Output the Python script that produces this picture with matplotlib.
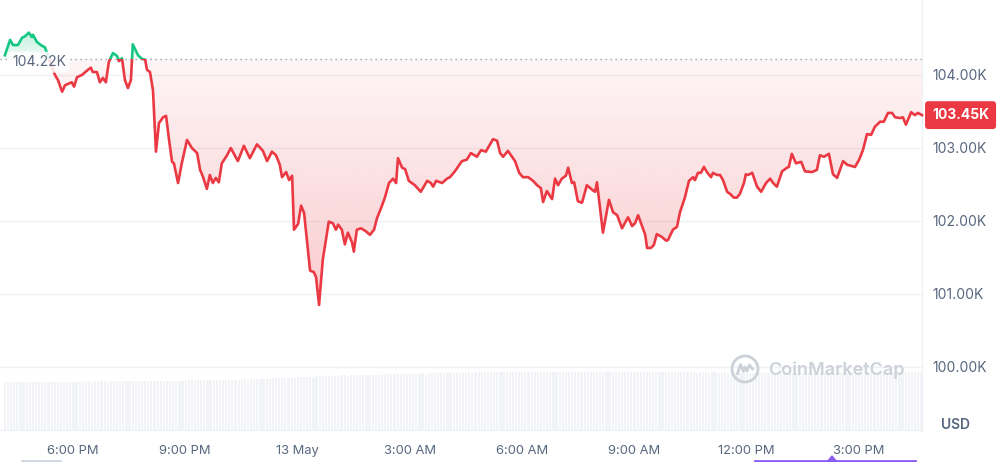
import numpy as np
import matplotlib
matplotlib.use("Agg")
import matplotlib.pyplot as plt
from matplotlib.path import Path
from matplotlib.patches import Rectangle, Circle, Polygon
from matplotlib.lines import Line2D
from matplotlib.colors import to_rgb
import matplotlib.transforms as mtransforms

plt.rcParams['font.family'] = ['Inter', 'DejaVu Sans']

# ---------------- data ----------------
# time in hours relative to 6:00 PM (12 May)
hours = [
    -1.82, -1.68, -1.60, -1.47, -1.36, -1.28, -1.18, -1.10, -1.07, -0.96, -0.83, -0.75,
    -0.48, -0.40, -0.29, -0.21, -0.03, 0.03, 0.11, 0.24, 0.40, 0.48, 0.53, 0.64,
    0.72, 0.80, 0.88, 0.96, 1.07, 1.18, 1.23, 1.31, 1.39, 1.47, 1.55, 1.60,
    1.74, 1.85, 1.93, 1.98, 2.06, 2.14, 2.22, 2.30, 2.41, 2.49, 2.57, 2.65,
    2.70, 2.81, 2.91, 3.05, 3.18, 3.32, 3.40, 3.48, 3.58, 3.66, 3.74, 3.82,
    3.90, 3.98, 4.12, 4.22, 4.41, 4.57, 4.73, 4.92, 5.08, 5.19, 5.32, 5.43,
    5.53, 5.59, 5.70, 5.78, 5.86, 5.91, 6.02, 6.10, 6.18, 6.34, 6.44, 6.50,
    6.58, 6.68, 6.84, 6.95, 7.03, 7.09, 7.19, 7.27, 7.35, 7.46, 7.51, 7.59,
    7.70, 7.83, 7.94, 8.05, 8.13, 8.24, 8.34, 8.45, 8.56, 8.64, 8.69, 8.80,
    8.88, 8.98, 9.14, 9.30, 9.47, 9.57, 9.63, 9.71, 9.87, 10.00, 10.08, 10.21,
    10.40, 10.53, 10.64, 10.80, 10.91, 11.04, 11.15, 11.23, 11.34, 11.42, 11.50, 11.63,
    11.82, 11.93, 12.03, 12.17, 12.30, 12.41, 12.51, 12.57, 12.67, 12.81, 12.89, 12.97,
    13.07, 13.18, 13.24, 13.34, 13.40, 13.50, 13.61, 13.74, 13.90, 13.96, 14.01, 14.17,
    14.33, 14.44, 14.55, 14.68, 14.84, 14.95, 15.03, 15.11, 15.30, 15.35, 15.45, 15.53,
    15.61, 15.75, 15.86, 15.91, 16.04, 16.15, 16.23, 16.36, 16.47, 16.58, 16.63, 16.71,
    16.79, 16.87, 16.95, 17.06, 17.11, 17.22, 17.30, 17.38, 17.49, 17.57, 17.67, 17.75,
    17.83, 17.94, 17.99, 18.05, 18.16, 18.29, 18.40, 18.53, 18.64, 18.72, 18.82, 18.96,
    19.09, 19.14, 19.22, 19.33, 19.47, 19.57, 19.76, 19.89, 19.97, 20.08, 20.21, 20.32,
    20.43, 20.59, 20.70, 20.91, 21.02, 21.12, 21.23, 21.34, 21.44, 21.58, 21.68, 21.79,
    21.90, 21.98, 22.11, 22.19, 22.27, 22.41, 22.51, 22.59, 22.70,
]
# price in thousands of USD
price_k = [
    104.27, 104.48, 104.41, 104.41, 104.51, 104.53, 104.58, 104.52, 104.55, 104.45, 104.40, 104.38,
    104.00, 103.93, 103.77, 103.86, 103.90, 103.84, 103.97, 104.00, 104.07, 104.10, 104.04, 104.04,
    103.90, 103.96, 103.90, 104.18, 104.30, 104.26, 104.19, 104.23, 103.93, 103.82, 103.93, 104.42,
    104.27, 104.22, 104.21, 104.07, 104.04, 103.79, 102.95, 103.34, 103.42, 103.44, 103.11, 102.81,
    102.79, 102.52, 102.79, 103.11, 103.00, 102.93, 102.70, 102.60, 102.44, 102.63, 102.52, 102.59,
    102.53, 102.79, 102.90, 103.00, 102.82, 103.03, 102.86, 103.05, 102.96, 102.82, 102.95, 102.90,
    102.77, 102.60, 102.67, 102.56, 102.62, 101.88, 101.96, 102.21, 102.11, 101.32, 101.30, 101.23,
    100.85, 101.47, 101.99, 101.97, 101.88, 101.95, 101.88, 101.68, 101.84, 101.71, 101.58, 101.88,
    101.90, 101.86, 101.81, 101.88, 102.04, 102.18, 102.32, 102.52, 102.58, 102.52, 102.86, 102.73,
    102.71, 102.55, 102.49, 102.40, 102.55, 102.52, 102.47, 102.55, 102.52, 102.58, 102.60, 102.68,
    102.82, 102.84, 102.93, 102.88, 102.97, 102.95, 103.05, 103.12, 103.10, 102.93, 102.88, 102.96,
    102.82, 102.66, 102.60, 102.60, 102.55, 102.49, 102.45, 102.26, 102.41, 102.30, 102.58, 102.49,
    102.58, 102.62, 102.73, 102.52, 102.53, 102.27, 102.25, 102.49, 102.42, 102.40, 102.53, 101.84,
    102.29, 102.12, 102.08, 101.90, 102.05, 101.93, 101.97, 102.08, 101.81, 101.63, 101.63, 101.67,
    101.82, 101.78, 101.73, 101.74, 101.88, 101.92, 102.12, 102.32, 102.55, 102.60, 102.56, 102.66,
    102.66, 102.74, 102.67, 102.60, 102.66, 102.63, 102.63, 102.56, 102.40, 102.37, 102.32, 102.32,
    102.37, 102.52, 102.64, 102.63, 102.66, 102.47, 102.40, 102.52, 102.58, 102.52, 102.47, 102.68,
    102.73, 102.74, 102.92, 102.79, 102.81, 102.68, 102.67, 102.70, 102.90, 102.88, 102.92, 102.64,
    102.59, 102.82, 102.77, 102.74, 102.84, 102.97, 103.19, 103.18, 103.29, 103.36, 103.36, 103.48,
    103.48, 103.42, 103.41, 103.42, 103.32, 103.49, 103.45, 103.48, 103.45,
]
open_price_k = 104.22
last_price_k = 103.45

# 24h volume (billions USD), one bar per 5 minutes starting at the first sample
volume_b = [
    38.4, 38.6, 38.3, 38.5, 38.4, 38.2, 38.5, 38.6, 38.4, 38.3, 38.5, 38.4,
    38.6, 38.5, 38.7, 38.4, 38.6, 38.8, 38.5, 38.6, 38.7, 38.5, 38.6, 38.8,
    38.9, 38.7, 38.8, 39.0, 38.8, 38.9, 38.7, 39.0, 38.9, 38.8, 39.1, 38.9,
    39.0, 39.2, 38.9, 39.1, 39.0, 39.3, 39.1, 39.0, 39.2, 39.1, 39.3, 39.2,
    39.4, 39.2, 39.5, 39.3, 39.4, 39.6, 39.4, 39.3, 39.5, 39.6, 39.4, 39.7,
    39.8, 39.6, 39.9, 39.7, 40.0, 39.8, 39.9, 40.1, 39.9, 40.0, 40.2, 40.0,
    40.3, 40.1, 40.4, 40.2, 40.5, 40.6, 40.4, 40.7, 40.5, 40.8, 40.9, 41.0,
    41.2, 41.0, 41.4, 41.3, 41.6, 41.5, 41.8, 41.7, 42.0, 41.9, 42.2, 42.3,
    42.5, 42.4, 42.7, 42.8, 43.0, 42.9, 43.2, 43.1, 43.4, 43.3, 43.5, 43.6,
    43.7, 43.8, 43.6, 43.9, 44.0, 43.9, 44.1, 44.2, 44.0, 44.3, 44.2, 44.4,
    44.5, 44.4, 44.6, 44.7, 44.5, 44.8, 44.7, 44.9, 44.8, 45.0, 44.9, 45.1,
    45.2, 45.0, 45.3, 45.2, 45.4, 45.3, 45.5, 45.4, 45.6, 45.5, 45.7, 45.6,
    45.8, 45.7, 45.9, 46.0, 45.9, 46.1, 46.0, 46.2, 46.1, 46.3, 46.2, 46.4,
    46.3, 46.4, 46.2, 46.5, 46.4, 46.3, 46.5, 46.4, 46.6, 46.5, 46.4, 46.6,
    46.5, 46.6, 46.4, 46.5, 46.7, 46.6, 46.5, 46.4, 46.6, 46.5, 46.7, 46.6,
    46.5, 46.4, 46.6, 46.5, 46.3, 46.5, 46.4, 46.6, 46.5, 46.4, 46.3, 46.5,
    46.4, 46.6, 46.5, 46.3, 46.4, 46.5, 46.6, 46.4, 46.5, 46.3, 46.4, 46.5,
    46.4, 46.3, 46.5, 46.4, 46.2, 46.4, 46.3, 46.5, 46.4, 46.3, 46.2, 46.4,
    46.3, 46.2, 46.4, 46.1, 46.3, 46.2, 46.0, 46.2, 46.1, 46.3, 46.0, 46.2,
    46.1, 46.0, 45.9, 46.1, 46.0, 45.8, 46.0, 45.9, 45.8, 46.0, 45.9, 45.8,
    45.9, 45.8, 46.0, 45.7, 45.9, 45.8, 45.7, 45.9, 45.8, 45.7, 45.9, 45.8,
    45.8, 45.9, 45.7, 45.8, 46.0, 45.9, 45.8, 46.0, 45.9, 46.1, 46.0, 45.9,
    46.0, 46.1, 45.9, 46.0, 46.2, 46.1, 46.0, 46.2, 46.1, 46.3, 46.2, 46.1,
    46.2, 46.3, 46.1, 46.2, 46.4, 46.3, 46.2, 46.4, 46.3, 46.2, 46.4, 46.3,
    46.4, 46.3, 46.5, 46.4, 46.6, 46.5, 46.6,
]
volume_step_h = 5 / 60

x_tick_hours = [0, 3, 6, 9, 12, 15, 18, 21]
x_tick_labels = ['6:00 PM', '9:00 PM', '13 May', '3:00 AM', '6:00 AM', '9:00 AM', '12:00 PM', '3:00 PM']
y_ticks_k = [100, 101, 102, 103, 104]

# ---------------- style ----------------
RED = '#ea3943'
GREEN = '#16c784'
GRID = '#eff2f5'
TXT = '#58667e'

W, H = 1008, 462
fig = plt.figure(figsize=(W / 100, H / 100), dpi=100)
fig.patch.set_facecolor('white')


def px(x0, y0, w, h):
    return [x0 / W, 1 - (y0 + h) / H, w / W, h / H]


XLIM = (-1.95, 22.70)

# volume axes
ax_vol = fig.add_axes(px(0, 360, 922, 70))
vt = hours[0] + np.arange(len(volume_b)) * volume_step_h
ax_vol.bar(vt, volume_b, width=volume_step_h * 0.7, color='#f1f3f6', linewidth=0)
ax_vol.set_xlim(*XLIM)
ax_vol.set_ylim(0, 56)
ax_vol.axis('off')

# price axes
ax = fig.add_axes(px(0, 0, 922, 430))
ax.patch.set_visible(False)

t = np.array(hours)
p = np.array(price_k)
base = open_price_k


def gradient_fill(mask, lo, hi, color, alpha_far, alpha_near, far_is_low):
    poly = ax.fill_between(t, p, base, where=mask, interpolate=True,
                           facecolor='none', edgecolor='none')
    paths = [pp for pp in poly.get_paths() if len(pp.vertices) > 0]
    if not paths:
        return
    clip = Path.make_compound_path(*paths)
    n = 256
    a = np.linspace(0, 1, n)
    if far_is_low:
        alpha = alpha_far + (alpha_near - alpha_far) * a
    else:
        alpha = alpha_near + (alpha_far - alpha_near) * a
    rgba = np.zeros((n, 1, 4))
    rgba[:, 0, :3] = to_rgb(color)
    rgba[:, 0, 3] = alpha
    im = ax.imshow(rgba, extent=[t[0], t[-1], lo, hi], origin='lower',
                   aspect='auto', interpolation='bilinear', zorder=1)
    im.set_clip_path(clip, transform=ax.transData)


gradient_fill(p <= base, p.min(), base, RED, 0.26, 0.05, True)
gradient_fill(p >= base, base, p.max(), GREEN, 0.26, 0.05, False)

# price line, red below / green above the open price
line_r, = ax.plot(t, p, color=RED, lw=1.9, zorder=4, solid_joinstyle='round')
line_g, = ax.plot(t, p, color=GREEN, lw=1.9, zorder=4, solid_joinstyle='round')
clip_low = Rectangle((-10, 90), 50, base - 90, transform=ax.transData)
clip_high = Rectangle((-10, base), 50, 20, transform=ax.transData)
line_r.set_clip_path(clip_low)
line_g.set_clip_path(clip_high)

# open price dotted line
ax.axhline(base, color='#9aa3b2', lw=1.0, ls=(0, (1, 2.6)), zorder=2)

ax.set_xlim(*XLIM)
ax.set_ylim(99.137, 105.027)

ax.set_yticks(y_ticks_k)
ax.yaxis.set_major_formatter(plt.FuncFormatter(lambda v, _: f'{v:.2f}K'))
ax.yaxis.tick_right()
ax.tick_params(axis='y', length=0, pad=7.5, labelsize=10, labelcolor=TXT)
ax.set_xticks(x_tick_hours)
ax.set_xticklabels(x_tick_labels)
ax.tick_params(axis='x', length=0, pad=11, labelsize=9.3, labelcolor=TXT)
ax.grid(axis='y', color=GRID, lw=1, zorder=0)
ax.set_axisbelow(True)
for s in ['top', 'left']:
    ax.spines[s].set_visible(False)
for s in ['right', 'bottom']:
    ax.spines[s].set_color(GRID)
    ax.spines[s].set_linewidth(1)

# open price label
ax.text(-1.63, 104.175, f'{open_price_k:.2f}K', ha='left', va='center',
        fontsize=10, color=TXT, zorder=5,
        bbox=dict(boxstyle='round,pad=0.25', fc='white', ec='none', alpha=0.85))

# last price tag
trans = mtransforms.blended_transform_factory(ax.transAxes, ax.transData)
ax.text(1 + 10 / 922, last_price_k, f'{last_price_k:.2f}K', transform=trans,
        ha='left', va='center', fontsize=10, color='white', fontweight='bold',
        zorder=6, clip_on=False,
        bbox=dict(boxstyle='round,pad=0.5,rounding_size=0.25', fc=RED, ec='none'))

# USD label
fig.text(955 / W, 1 - 425 / H, 'USD', ha='center', va='center', fontsize=10,
         fontweight='semibold', color=TXT)

# watermark
wm = '#cdd1d8'
fig.text(768 / W, 1 - 370 / H, 'CoinMarketCap', ha='left', va='center',
         fontsize=13, fontweight='semibold', color=wm)
cx, cy = 7.45, (H - 369) / 100
fig.add_artist(Circle((cx, cy), 0.13, transform=fig.dpi_scale_trans,
                      fill=False, ec=wm, lw=2))
zx = np.array([-0.075, -0.045, -0.015, 0.0, 0.02, 0.045, 0.075])
zy = np.array([-0.045, 0.045, -0.025, 0.02, -0.02, 0.04, 0.0])
fig.add_artist(Line2D(cx + zx, cy + zy, transform=fig.dpi_scale_trans,
                      color=wm, lw=2, solid_joinstyle='round'))

# navigator remnants at the bottom edge
fig.add_artist(Line2D([755 / W, 915 / W], [1 - 461 / H] * 2, color='#8b5cf6', lw=2))
fig.add_artist(Polygon([[827 / W, 1 - 462 / H], [837 / W, 1 - 462 / H], [832 / W, 1 - 456 / H]],
                       closed=True, color='#8b5cf6'))
fig.add_artist(Line2D([22 / W, 60 / W], [1 - 461 / H] * 2, color='#cfd6e4', lw=2))

fig.savefig('out.png', dpi=100, facecolor='white')
